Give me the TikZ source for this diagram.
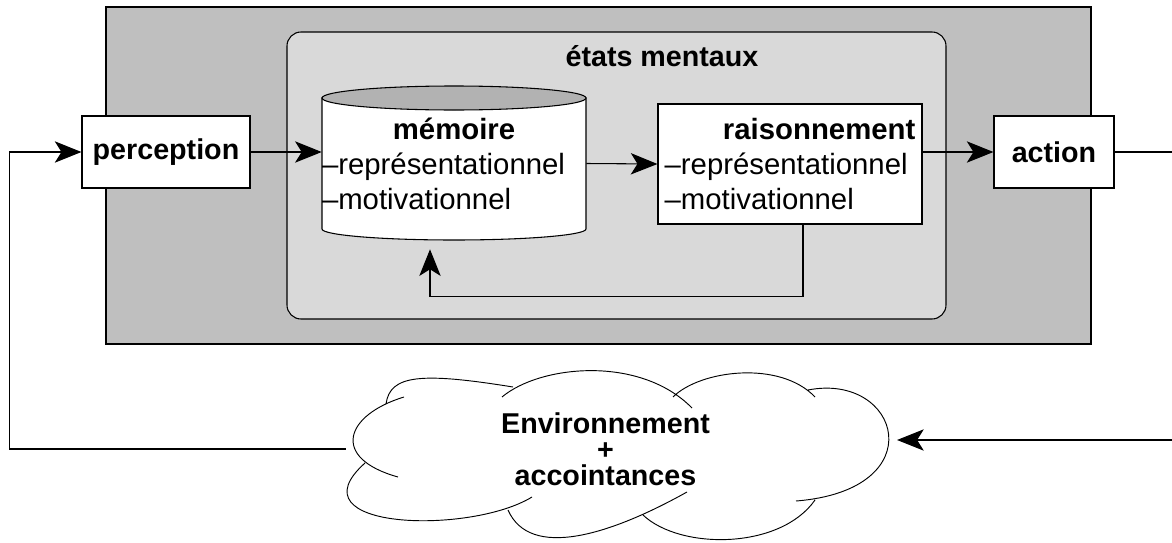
\documentclass[tikz,border=0pt]{standalone}
\usepackage{fontspec}
\setmainfont{Liberation Sans}
\usepackage{tikz}
\usetikzlibrary{positioning, arrows.meta}

\begin{document}
\begin{tikzpicture}[
    x=0.75pt, y=-0.75pt,
    every node/.style={font=\fontsize{22}{26.25}\selectfont},
    bloc/.style={rectangle, draw, fill=white, line width=0.8pt, minimum height=54pt, inner sep=0pt, font=\fontsize{21.5}{26.25}\selectfont\bfseries},
    boite/.style={rectangle, draw, fill=white, line width=0.8pt, text width=188pt, inner xsep=5pt, inner ysep=0pt, minimum height=90pt, align=left},
    fleche/.style={-{Stealth[length=20pt, width=16pt, inset=5pt]}, line width=0.8pt},
    trait/.style={line width=0.8pt}
]
\useasboundingbox (0,0) rectangle (1172,543);

% Fonds
\draw[trait, fill=black!25] (106,7) rectangle (1091,344);
\draw[trait, fill=black!15, rounded corners=10.5pt] (287,32) rectangle (946,319);
\node[font=\fontsize{21.5}{26}\selectfont\bfseries] (titre) at (662,56) {états mentaux};

% Cylindre de la mémoire
\draw[trait, fill=white] (322,98) -- (322,229) arc[start angle=180, end angle=360, x radius=99pt, y radius=8.25pt] -- (586,98) -- cycle;
\draw[trait, fill=black!30] (454,98) ellipse[x radius=99pt, y radius=9pt];

% Nodes
\node[text width=198pt, inner sep=0pt, minimum height=98.25pt, align=left] (memoire) at (454,163.5)
    {\makebox[\linewidth]{\bfseries mémoire}\\–représentationnel\\–motivationnel};
\node[boite] (raison) at (790,164)
    {\makebox[\linewidth][r]{\bfseries raisonnement}\\–représentationnel\\–motivationnel};
\node[bloc, minimum width=126pt] (perception) at (166,152) {perception};
\node[bloc, minimum width=90pt] (action) at (1054,152) {action};
\node[minimum width=413pt, minimum height=127pt,
    label={[name=envtexte, xshift=-12pt, align=center, font=\fontsize{21.5}{19.5}\selectfont\bfseries]center:{Environnement\\+\\accointances}}]
    (nuage) at (621.5,449) {};

% Nuage
\draw[line width=0.7pt]
    (404,397) .. controls (345,415) and (330,458) .. (398,477)
    (386,404) .. controls (390,375) and (420,372) .. (513,387)
    (502,397) .. controls (540,365) and (640,355) .. (692,408)
    (673,397) .. controls (700,370) and (780,360) .. (815,397)
    (808,390) .. controls (900,372) and (935,490) .. (796,501)
    (815,500) .. controls (780,550) and (680,550) .. (643,515)
    (687,492) .. controls (610,535) and (530,560) .. (508,510)
    (532,497) .. controls (470,535) and (290,530) .. (365,463);

% Arrows
\coordinate (sortie) at (1172,152);
\coordinate (entree) at (1172,440);
\draw[fleche] (perception.east) -- (perception.east -| memoire.west);
\draw[fleche] (memoire.east) -- (raison.west);
\draw[fleche] (raison.east |- action.west) -- (action.west);
\draw[trait] (action.east) -- (sortie);
\draw[fleche] ([xshift=9.75pt]raison.south) |- ([xshift=-18pt, yshift=-50.25pt]memoire.south) -- ([xshift=-18pt, yshift=-15pt]memoire.south);
\draw[fleche] (entree) -- (entree -| nuage.east);
\draw[fleche] (nuage.west) -| ([xshift=-54pt]perception.west) -- (perception.west);

\end{tikzpicture}
\end{document}
